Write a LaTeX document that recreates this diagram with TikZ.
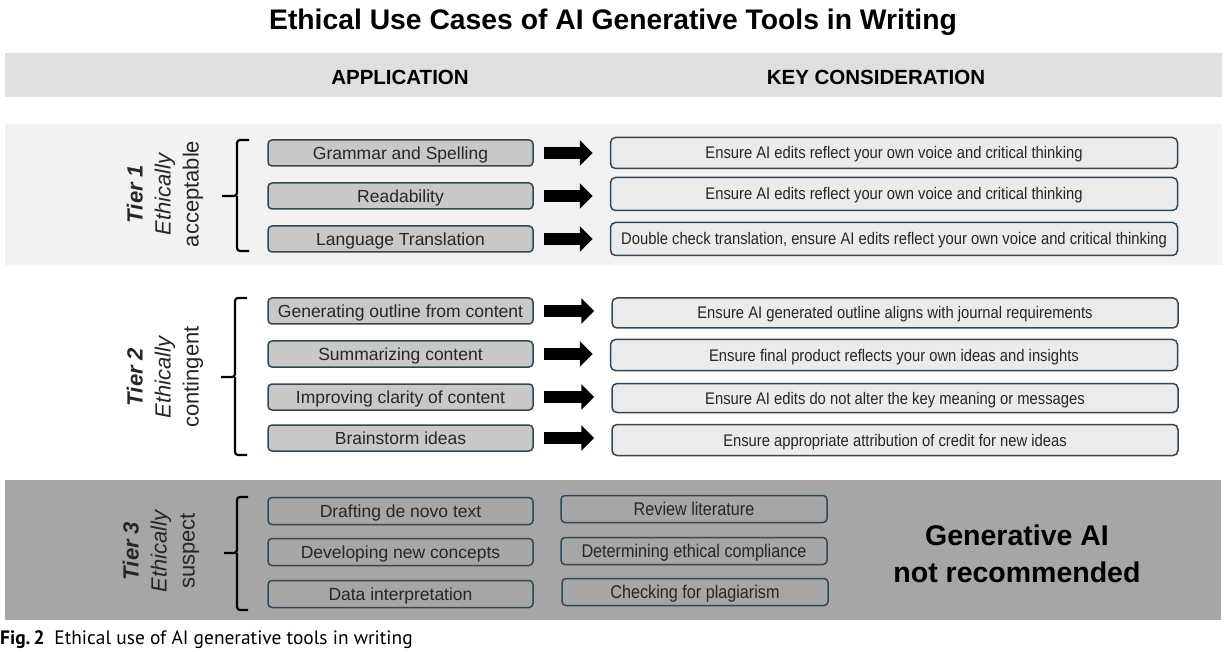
\documentclass[tikz,border=0pt]{standalone}
\usepackage{fontspec}
\setmainfont{Liberation Sans}
\newfontfamily\narrowfont{Liberation Sans}[FakeStretch=0.88]
\newfontfamily\capfont{PT Sans}
\usetikzlibrary{arrows.meta}
\definecolor{bdr}{HTML}{2F4858}
\definecolor{lfill}{HTML}{C8C8C8}
\definecolor{rfill}{HTML}{EBEBEB}
\definecolor{bandone}{HTML}{F2F2F2}
\definecolor{hband}{HTML}{DFDFDF}
\definecolor{bandthree}{HTML}{A6A6A6}
\definecolor{txt}{HTML}{262626}
\tikzset{
  appbox/.style={draw=bdr, fill=lfill, line width=1.5pt, rounded corners=4pt,
    minimum width=265pt, minimum height=26pt, inner sep=0pt, text=txt,
    text height=13.5pt, text depth=0pt,
    font=\fontsize{17.5}{20}\selectfont},
  keybox/.style={draw=bdr, fill=rfill, line width=1.5pt, rounded corners=5pt,
    minimum width=567pt, minimum height=31pt, inner sep=0pt, text=txt,
    text height=12pt, text depth=0pt,
    font=\narrowfont\fontsize{16.8}{18}\selectfont},
  susbox/.style={draw=bdr, line width=1.5pt, rounded corners=4pt,
    minimum width=265pt, minimum height=27pt, inner sep=0pt, text=txt,
    text height=13.5pt, text depth=0pt,
    font=\fontsize{17.5}{20}\selectfont},
  susboxn/.style={susbox, text height=13pt,
    font=\narrowfont\fontsize{18.4}{20}\selectfont},
  bigarrow/.style={line width=12pt, -{Triangle[length=13pt 0, width=25pt 0]},
    shorten <=10pt, shorten >=17pt},
  bracket/.style={line width=2.2pt, rounded corners=3pt},
  tierlabel/.style={rotate=90, align=center, text=txt,
    font=\fontsize{22}{28}\selectfont},
  headtxt/.style={font=\bfseries\fontsize{20.5}{24}\selectfont, text=black},
}
\begin{document}
\begin{tikzpicture}[x=1pt,y=-1pt]
\useasboundingbox (0,0) rectangle (1229,652);
\fill[white] (0,0) rectangle (1229,652);
% title
\node[font=\bfseries\fontsize{28.3}{32}\selectfont] (title) at (613,22) {Ethical Use Cases of AI Generative Tools in Writing};
% bands
\fill[hband] (5,53) rectangle (1222,97);
\fill[bandone] (5,124) rectangle (1222,265);
\fill[bandthree] (5,480) rectangle (1221,620);
\node[headtxt] (happ) at (400,77) {APPLICATION};
\node[headtxt] (hkey) at (876,77) {KEY CONSIDERATION};
% Tier 1
\node[tierlabel] (t1) at (165,194) {\textbf{\textit{Tier 1}}\\\textit{Ethically}\\acceptable};
\draw[bracket] (249,140) -- (237,140) -- (237,196) -- (222,196);
\draw[bracket] (237,196) -- (237,251) -- (249,251);
\node[appbox] (a1) at (400.5,153) {Grammar and Spelling};
\node[appbox] (a2) at (400.5,196) {Readability};
\node[appbox] (a3) at (400.5,239) {Language Translation};
\node[keybox, minimum height=31pt] (k1) at (894,153) {Ensure AI edits reflect your own voice and critical thinking};
\node[keybox, minimum height=33pt] (k2) at (894,194) {Ensure AI edits reflect your own voice and critical thinking};
\node[keybox, minimum height=33pt] (k3) at (894,239) {Double check translation, ensure AI edits reflect your own voice and critical thinking};
\draw[bigarrow] (a1.east) -- (a1.east -| k1.west);
\draw[bigarrow] (a2.east) -- (a2.east -| k2.west);
\draw[bigarrow] (a3.east) -- (a3.east -| k3.west);
% Tier 2
\node[tierlabel] (t2) at (165,377) {\textbf{\textit{Tier 2}}\\\textit{Ethically}\\contingent};
\draw[bracket] (247,298) -- (235,298) -- (235,377) -- (221,377);
\draw[bracket] (235,377) -- (235,455) -- (247,455);
\node[appbox] (b1) at (400.5,311) {Generating outline from content};
\node[appbox] (b2) at (400.5,354) {Summarizing content};
\node[appbox] (b3) at (400.5,397) {Improving clarity of content};
\node[appbox] (b4) at (400.5,438) {Brainstorm ideas};
\node[keybox, minimum width=566pt, minimum height=30pt] (m1) at (895,313) {Ensure AI generated outline aligns with journal requirements};
\node[keybox, minimum height=31pt] (m2) at (894,355) {Ensure final product reflects your own ideas and insights};
\node[keybox, minimum width=566pt, minimum height=29pt] (m3) at (895,398) {Ensure AI edits do not alter the key meaning or messages};
\node[keybox, minimum width=566pt, minimum height=31pt] (m4) at (895,440) {Ensure appropriate attribution of credit for new ideas};
\draw[bigarrow] (b1.east) -- (b1.east -| m1.west);
\draw[bigarrow] (b2.east) -- (b2.east -| m2.west);
\draw[bigarrow] (b3.east) -- (b3.east -| m3.west);
\draw[bigarrow] (b4.east) -- (b4.east -| m4.west);
% Tier 3
\node[tierlabel] (t3) at (161,551) {\textbf{\textit{Tier 3}}\\\textit{Ethically}\\suspect};
\draw[bracket] (248,497) -- (237,497) -- (237,553) -- (224,553);
\draw[bracket] (237,553) -- (237,610) -- (248,610);
\node[susbox] (c1) at (400.5,511) {Drafting de novo text};
\node[susbox] (c2) at (400.5,552) {Developing new concepts};
\node[susbox] (c3) at (400.5,594) {Data interpretation};
\node[susboxn, minimum width=266pt] (d1) at (694,509) {Review literature};
\node[susboxn, minimum width=266pt] (d2) at (694,551) {Determining ethical compliance};
\node[susboxn, minimum width=266pt] (d3) at (695,592) {Checking for plagiarism};
\node[align=center, font=\bfseries\fontsize{28.5}{37}\selectfont, text=black] (gai) at (1017,554) {Generative AI\\not recommended};
% caption
\node[anchor=west, inner sep=0pt, font=\capfont\fontsize{19.4}{22}\selectfont] (cap) at (0,640) {\textbf{Fig.\,2}\enspace Ethical use of AI generative tools in writing};
\end{tikzpicture}
\end{document}
